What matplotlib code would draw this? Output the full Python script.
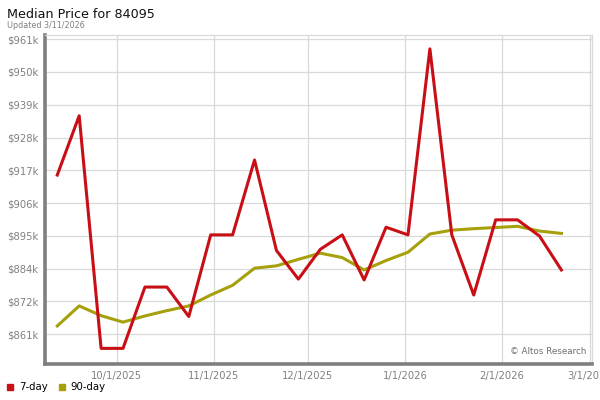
import numpy as np
import pandas as pd
import matplotlib
matplotlib.use("Agg")
import matplotlib.pyplot as plt
import matplotlib.dates as mdates
from matplotlib.lines import Line2D

# weekly data points, Sept 12 2025 .. Feb 20 2026
dates = pd.date_range("2025-09-12", periods=24, freq="7D")

price_7day = [915.3, 935.4, 856.5, 856.5, 877.3, 877.3, 867.3, 895.0,
              895.0, 920.4, 889.7, 880.0, 890.1, 895.0, 879.7, 897.6,
              895.0, 958.1, 895.0, 874.6, 900.1, 900.1, 894.6, 883.1]
price_90day = [864.1, 870.9, 867.6, 865.4, 867.5, 869.3, 870.9, 874.6,
               877.9, 883.7, 884.5, 886.7, 888.8, 887.3, 883.1, 886.3,
               889.1, 895.3, 896.6, 897.1, 897.5, 897.9, 896.3, 895.5]

ytick_labels = ["$861k", "$872k", "$884k", "$895k", "$906k",
                "$917k", "$928k", "$939k", "$950k", "$961k"]
xtick_dates = ["2025-10-01", "2025-11-01", "2025-12-01",
               "2026-01-01", "2026-02-01", "2026-03-01"]
xtick_labels = ["10/1/2025", "11/1/2025", "12/1/2025",
                "1/1/2026", "2/1/2026", "3/1/2026"]

red = "#c80f16"
olive = "#a6a00c"
grey_txt = "#808080"
grid_c = "#d9d9d9"

plt.rcParams["font.family"] = ["DejaVu Sans"]

fig = plt.figure(figsize=(6, 4), dpi=100)
ax = fig.add_axes([0.075, 0.09, 0.912, 0.8225])

ax.plot(dates, np.array(price_90day) * 1000, color=olive, lw=2.2, zorder=3)
ax.plot(dates, np.array(price_7day) * 1000, color=red, lw=2.2, zorder=4)

# axes limits
ax.set_xlim(pd.Timestamp("2025-09-08 02:00"), pd.Timestamp("2026-03-01 20:00"))
ax.set_ylim(851200, 962800)

yt = np.linspace(861300, 961380, 10)
ax.set_yticks(yt)
ax.set_yticklabels(ytick_labels)
ax.set_xticks(pd.to_datetime(xtick_dates))
ax.set_xticklabels(xtick_labels)
ax.tick_params(length=0, labelsize=7.2, colors=grey_txt, pad=5)

ax.grid(True, color=grid_c, lw=0.9)
ax.set_axisbelow(True)

for s in ["top", "right"]:
    ax.spines[s].set_color(grid_c)
    ax.spines[s].set_linewidth(0.9)
for s in ["left", "bottom"]:
    ax.spines[s].set_color("#7f7f7f")
    ax.spines[s].set_linewidth(2.6)

ax.text(0.99, 0.025, "\u00a9 Altos Research", transform=ax.transAxes,
        ha="right", va="bottom", fontsize=6.3, color="#6f6f6f")

# title
fig.text(0.012, 0.965, "Median Price for 84095", fontsize=9.2, color="#111111",
         va="center", ha="left")
fig.text(0.012, 0.937, "Updated 3/11/2026", fontsize=5.8, color=grey_txt,
         va="center", ha="left")

# legend
handles = [Line2D([], [], ls="none", marker="s", markersize=4.5, color=red),
           Line2D([], [], ls="none", marker="s", markersize=4.5, color=olive)]
fig.legend(handles, ["7-day", "90-day"], loc="lower left",
           bbox_to_anchor=(-0.006, -0.003), ncol=2, frameon=False,
           fontsize=7.3, handlelength=0.8, handletextpad=0.5,
           columnspacing=1.0)

fig.savefig("out.png", dpi=100)
